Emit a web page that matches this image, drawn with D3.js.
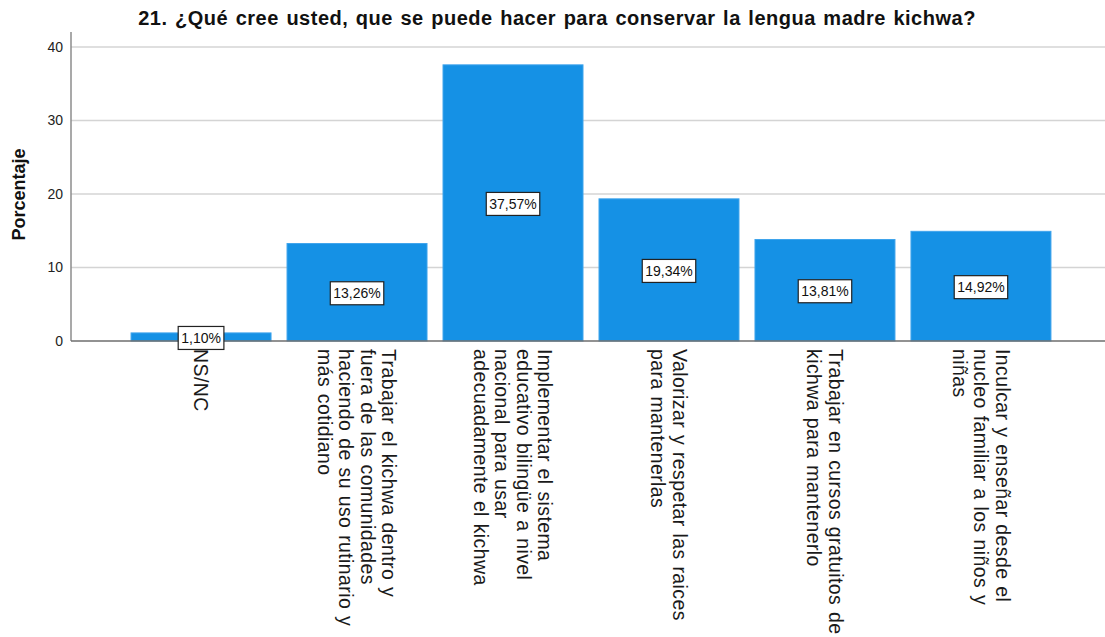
<!DOCTYPE html>
<html>
<head>
<meta charset="utf-8">
<script src="https://cdn.jsdelivr.net/npm/d3@7"></script>
<style>
  html, body { margin: 0; padding: 0; background: #fff; }
  svg { display: block; }
  text { font-family: "Liberation Sans", Arial, sans-serif; }
</style>
</head>
<body>
<svg id="chart" width="1105" height="637"></svg>
<script>
// Answer categories (each entry is one wrapped label, one line per element)
const categories = [
  ["NS/NC"],
  ["Trabajar el kichwa dentro y", "fuera de las comunidades", "haciendo de su uso rutinario y", "más cotidiano"],
  ["Implementar el sistema", "educativo bilingüe a nivel", "nacional para usar", "adecuadamente el kichwa"],
  ["Valorizar y respetar las raices", "para mantenerlas"],
  ["Trabajar en cursos gratuitos de", "kichwa para mantenerlo"],
  ["Inculcar y enseñar desde el", "nucleo familiar a los niños y", "niñas"]
];
const percentages = [1.10, 13.26, 37.57, 19.34, 13.81, 14.92];
const yTicks = [0, 10, 20, 30, 40];
const titleText = "21. ¿Qué cree usted, que se puede hacer para conservar la lengua madre kichwa?";
const yTitle = "Porcentaje";

const svg = d3.select("#chart");
const W = 1105, H = 637;
const plot = { left: 71, right: 1111, top: 32, bottom: 341 };

const x = d3.scaleBand()
  .domain(d3.range(categories.length))
  .range([plot.left, plot.right])
  .paddingInner(16 / 156)
  .paddingOuter(0.385);

const y = d3.scaleLinear().domain([0, 40]).range([plot.bottom, plot.top + 15]);

const fmt = v => d3.format(".2f")(v).replace(".", ",") + "%";

// Horizontal gridlines
svg.append("g")
  .selectAll("line")
  .data(yTicks.filter(t => t > 0))
  .join("line")
  .attr("x1", plot.left).attr("x2", W)
  .attr("y1", d => y(d)).attr("y2", d => y(d))
  .attr("stroke", "#d4d4d4").attr("stroke-width", 1.5);

// Y axis
const yAxis = svg.append("g")
  .attr("transform", `translate(${plot.left},0)`)
  .call(d3.axisLeft(y).tickValues(yTicks).tickSize(0).tickPadding(8));
yAxis.select(".domain").remove();
yAxis.selectAll("text")
  .attr("font-size", 14)
  .attr("fill", "#222")
  .attr("font-family", "Liberation Sans, Arial, sans-serif");
svg.append("line")
  .attr("x1", plot.left).attr("x2", plot.left)
  .attr("y1", plot.top).attr("y2", plot.bottom)
  .attr("stroke", "#8c8c8c").attr("stroke-width", 1.5);

// Bars
svg.append("g")
  .selectAll("rect")
  .data(percentages)
  .join("rect")
  .attr("x", (d, i) => x(i))
  .attr("width", x.bandwidth())
  .attr("y", d => y(d))
  .attr("height", d => y(0) - y(d))
  .attr("fill", "#1591e5")
  .attr("stroke", "#3fa4ec")
  .attr("stroke-width", 1);

// X axis baseline
svg.append("line")
  .attr("x1", plot.left).attr("x2", W)
  .attr("y1", plot.bottom).attr("y2", plot.bottom)
  .attr("stroke", "#6e6e6e").attr("stroke-width", 1.5);

// Value labels in boxes at the middle of each bar
const labels = svg.append("g")
  .selectAll("g")
  .data(percentages)
  .join("g")
  .attr("transform", (d, i) => `translate(${x(i) + x.bandwidth() / 2},${(y(d) + y(0)) / 2 + 1})`);
labels.append("text")
  .attr("text-anchor", "middle")
  .attr("dy", "0.36em")
  .attr("font-size", 14)
  .attr("fill", "#111")
  .text(d => fmt(d));
labels.each(function () {
  const g = d3.select(this);
  const bb = g.select("text").node().getBBox();
  g.insert("rect", "text")
    .attr("x", bb.x - 3).attr("y", -11.5)
    .attr("width", bb.width + 6).attr("height", 23)
    .attr("fill", "#fff")
    .attr("stroke", "#222").attr("stroke-width", 1.2);
});

// Category labels, rotated and wrapped
const lineH = 21.5;
const cat = svg.append("g")
  .selectAll("text")
  .data(categories)
  .join("text")
  .attr("transform", (d, i) => `translate(${x(i) + x.bandwidth() / 2},${plot.bottom + 8}) rotate(90)`)
  .attr("font-size", 19.5)
  .attr("letter-spacing", 0.4)
  .attr("word-spacing", 1)
  .attr("fill", "#1a1a1a")
  .attr("text-anchor", "start");
cat.each(function (lines) {
  const t = d3.select(this);
  const n = lines.length;
  lines.forEach((ln, j) => {
    t.append("tspan")
      .attr("x", 0)
      .attr("y", (j - (n - 1) / 2) * lineH)
      .attr("dy", "0.35em")
      .text(ln);
  });
});

// Title
svg.append("text")
  .attr("x", 557).attr("y", 25)
  .attr("text-anchor", "middle")
  .attr("font-size", 20)
  .attr("letter-spacing", 0.5)
  .attr("word-spacing", 1.5)
  .attr("font-weight", "bold")
  .attr("fill", "#111")
  .text(titleText);

// Y axis title
svg.append("text")
  .attr("transform", `translate(25,${(plot.top + plot.bottom) / 2 + 8}) rotate(-90)`)
  .attr("text-anchor", "middle")
  .attr("font-size", 18)
  .attr("font-weight", "bold")
  .attr("fill", "#111")
  .text(yTitle);
</script>
</body>
</html>
